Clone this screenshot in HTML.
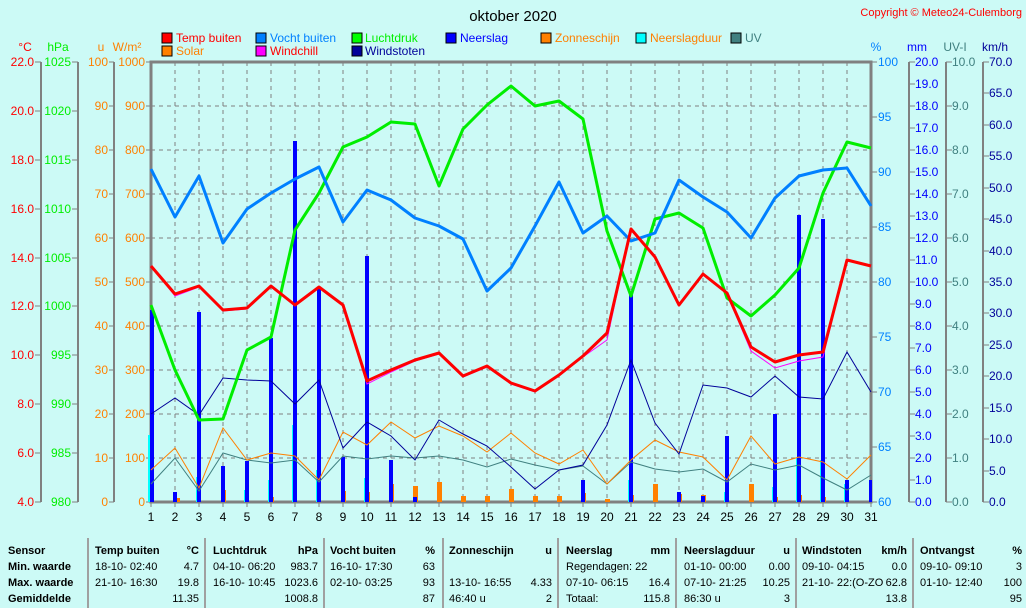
<!DOCTYPE html>
<html><head><meta charset="utf-8"><style>
html,body{margin:0;padding:0;background:#ccfaf6;}
svg{display:block;font-family:"Liberation Sans",sans-serif;}
</style></head><body>
<svg width="1026" height="608" viewBox="0 0 1026 608" xmlns="http://www.w3.org/2000/svg">
<rect width="1026" height="608" fill="#ccfaf6"/>
<text x="513" y="21" font-size="15" text-anchor="middle" fill="#000">oktober 2020</text>
<text x="1022" y="16" font-size="11" text-anchor="end" fill="#ff0000">Copyright © Meteo24-Culemborg</text>
<!-- legend -->
<g font-size="12">
<rect x="162" y="33" width="10" height="10" fill="#ff0000" stroke="#000"/><text x="176" y="42" fill="#ff0000">Temp buiten</text>
<rect x="162" y="46" width="10" height="10" fill="#ff8000" stroke="#000"/><text x="176" y="55" fill="#ff8000">Solar</text>
<rect x="256" y="33" width="10" height="10" fill="#0080ff" stroke="#000"/><text x="270" y="42" fill="#0080ff">Vocht buiten</text>
<rect x="256" y="46" width="10" height="10" fill="#ff00ff" stroke="#000"/><text x="270" y="55" fill="#ff0000">Windchill</text>
<rect x="352" y="33" width="10" height="10" fill="#00ff00" stroke="#000"/><text x="365" y="42" fill="#00ee00">Luchtdruk</text>
<rect x="352" y="46" width="10" height="10" fill="#000099" stroke="#000"/><text x="365" y="55" fill="#000099">Windstoten</text>
<rect x="446" y="33" width="10" height="10" fill="#0000ff" stroke="#000"/><text x="460" y="42" fill="#0000ff">Neerslag</text>
<rect x="541" y="33" width="10" height="10" fill="#ff8000" stroke="#000"/><text x="555" y="42" fill="#ff8000">Zonneschijn</text>
<rect x="636" y="33" width="10" height="10" fill="#00ffff" stroke="#000"/><text x="650" y="42" fill="#ff8000">Neerslagduur</text>
<rect x="731" y="33" width="10" height="10" fill="#408080" stroke="#000"/><text x="745" y="42" fill="#408080">UV</text>
</g>
<!-- axis titles -->
<g font-size="12">
<text x="25" y="51" fill="#ff0000" text-anchor="middle">°C</text>
<text x="58" y="51" fill="#00ee00" text-anchor="middle">hPa</text>
<text x="101" y="51" fill="#ff8000" text-anchor="middle">u</text>
<text x="127" y="51" fill="#ff8000" text-anchor="middle">W/m²</text>
<text x="876" y="51" fill="#0080ff" text-anchor="middle">%</text>
<text x="917" y="51" fill="#0000ff" text-anchor="middle">mm</text>
<text x="955" y="51" fill="#408080" text-anchor="middle">UV-I</text>
<text x="995" y="51" fill="#000099" text-anchor="middle">km/h</text>
</g>
<!-- grid -->
<g stroke="#808080" stroke-width="1" stroke-dasharray="4,4">
<path d="M175 62V502M199 62V502M223 62V502M247 62V502M271 62V502M295 62V502M319 62V502M343 62V502M367 62V502M391 62V502M415 62V502M439 62V502M463 62V502M487 62V502M511 62V502M535 62V502M559 62V502M583 62V502M607 62V502M631 62V502M655 62V502M679 62V502M703 62V502M727 62V502M751 62V502M775 62V502M799 62V502M823 62V502M847 62V502"/>
<path d="M151 106H871M151 150H871M151 194H871M151 238H871M151 282H871M151 326H871M151 370H871M151 414H871M151 458H871"/>
</g>
<!-- axes lines -->
<g stroke="#808080" fill="none">
<path d="M151 62H871V502H151Z" stroke-width="3"/>
<path d="M41 62V502M78 62V502M114 62V502M909 62V502M946 62V502M983 62V502" stroke-width="2"/>
<path d="M35 62h6M35 111h6M35 160h6M35 209h6M35 258h6M35 306h6M35 355h6M35 404h6M35 453h6M35 502h6"/>
<path d="M72 62h6M72 111h6M72 160h6M72 209h6M72 258h6M72 306h6M72 355h6M72 404h6M72 453h6M72 502h6"/>
<path d="M109 62h5M109 106h5M109 150h5M109 194h5M109 238h5M109 282h5M109 326h5M109 370h5M109 414h5M109 458h5M109 502h5"/>
<path d="M146 62h5M146 106h5M146 150h5M146 194h5M146 238h5M146 282h5M146 326h5M146 370h5M146 414h5M146 458h5M146 502h5"/>
<path d="M871 62h6M871 117h6M871 172h6M871 227h6M871 282h6M871 337h6M871 392h6M871 447h6M871 502h6"/>
<path d="M909 62h6M909 84h6M909 106h6M909 128h6M909 150h6M909 172h6M909 194h6M909 216h6M909 238h6M909 260h6M909 282h6M909 304h6M909 326h6M909 348h6M909 370h6M909 392h6M909 414h6M909 436h6M909 458h6M909 480h6M909 502h6"/>
<path d="M946 62h6M946 106h6M946 150h6M946 194h6M946 238h6M946 282h6M946 326h6M946 370h6M946 414h6M946 458h6M946 502h6"/>
<path d="M983 62h6M983 93h6M983 125h6M983 156h6M983 188h6M983 219h6M983 251h6M983 282h6M983 313h6M983 345h6M983 376h6M983 408h6M983 439h6M983 471h6M983 502h6"/>
<path d="M151 502v5M175 502v5M199 502v5M223 502v5M247 502v5M271 502v5M295 502v5M319 502v5M343 502v5M367 502v5M391 502v5M415 502v5M439 502v5M463 502v5M487 502v5M511 502v5M535 502v5M559 502v5M583 502v5M607 502v5M631 502v5M655 502v5M679 502v5M703 502v5M727 502v5M751 502v5M775 502v5M799 502v5M823 502v5M847 502v5M871 502v5"/>
</g>
<!-- axis labels -->
<g font-size="12" text-anchor="end">
<g fill="#ff0000"><text x="34" y="66">22.0</text><text x="34" y="115">20.0</text><text x="34" y="164">18.0</text><text x="34" y="213">16.0</text><text x="34" y="262">14.0</text><text x="34" y="310">12.0</text><text x="34" y="359">10.0</text><text x="34" y="408">8.0</text><text x="34" y="457">6.0</text><text x="34" y="506">4.0</text></g>
<g fill="#00ee00"><text x="71" y="66">1025</text><text x="71" y="115">1020</text><text x="71" y="164">1015</text><text x="71" y="213">1010</text><text x="71" y="262">1005</text><text x="71" y="310">1000</text><text x="71" y="359">995</text><text x="71" y="408">990</text><text x="71" y="457">985</text><text x="71" y="506">980</text></g>
<g fill="#ff8000"><text x="108" y="66">100</text><text x="108" y="110">90</text><text x="108" y="154">80</text><text x="108" y="198">70</text><text x="108" y="242">60</text><text x="108" y="286">50</text><text x="108" y="330">40</text><text x="108" y="374">30</text><text x="108" y="418">20</text><text x="108" y="462">10</text><text x="108" y="506">0</text></g>
<g fill="#ff8000"><text x="145" y="66">1000</text><text x="145" y="110">900</text><text x="145" y="154">800</text><text x="145" y="198">700</text><text x="145" y="242">600</text><text x="145" y="286">500</text><text x="145" y="330">400</text><text x="145" y="374">300</text><text x="145" y="418">200</text><text x="145" y="462">100</text><text x="145" y="506">0</text></g>
</g>
<g font-size="12" text-anchor="start">
<g fill="#0080ff"><text x="878" y="66">100</text><text x="878" y="121">95</text><text x="878" y="176">90</text><text x="878" y="231">85</text><text x="878" y="286">80</text><text x="878" y="341">75</text><text x="878" y="396">70</text><text x="878" y="451">65</text><text x="878" y="506">60</text></g>
<g fill="#0000ff"><text x="915" y="66">20.0</text><text x="915" y="88">19.0</text><text x="915" y="110">18.0</text><text x="915" y="132">17.0</text><text x="915" y="154">16.0</text><text x="915" y="176">15.0</text><text x="915" y="198">14.0</text><text x="915" y="220">13.0</text><text x="915" y="242">12.0</text><text x="915" y="264">11.0</text><text x="915" y="286">10.0</text><text x="915" y="308">9.0</text><text x="915" y="330">8.0</text><text x="915" y="352">7.0</text><text x="915" y="374">6.0</text><text x="915" y="396">5.0</text><text x="915" y="418">4.0</text><text x="915" y="440">3.0</text><text x="915" y="462">2.0</text><text x="915" y="484">1.0</text><text x="915" y="506">0.0</text></g>
<g fill="#408080"><text x="952" y="66">10.0</text><text x="952" y="110">9.0</text><text x="952" y="154">8.0</text><text x="952" y="198">7.0</text><text x="952" y="242">6.0</text><text x="952" y="286">5.0</text><text x="952" y="330">4.0</text><text x="952" y="374">3.0</text><text x="952" y="418">2.0</text><text x="952" y="462">1.0</text><text x="952" y="506">0.0</text></g>
<g fill="#000099"><text x="989" y="66">70.0</text><text x="989" y="97">65.0</text><text x="989" y="129">60.0</text><text x="989" y="160">55.0</text><text x="989" y="192">50.0</text><text x="989" y="223">45.0</text><text x="989" y="255">40.0</text><text x="989" y="286">35.0</text><text x="989" y="317">30.0</text><text x="989" y="349">25.0</text><text x="989" y="380">20.0</text><text x="989" y="412">15.0</text><text x="989" y="443">10.0</text><text x="989" y="475">5.0</text><text x="989" y="506">0.0</text></g>
</g>
<g font-size="12" text-anchor="middle" fill="#000">
<text x="151" y="521">1</text><text x="175" y="521">2</text><text x="199" y="521">3</text><text x="223" y="521">4</text><text x="247" y="521">5</text><text x="271" y="521">6</text><text x="295" y="521">7</text><text x="319" y="521">8</text><text x="343" y="521">9</text><text x="367" y="521">10</text><text x="391" y="521">11</text><text x="415" y="521">12</text><text x="439" y="521">13</text><text x="463" y="521">14</text><text x="487" y="521">15</text><text x="511" y="521">16</text><text x="535" y="521">17</text><text x="559" y="521">18</text><text x="583" y="521">19</text><text x="607" y="521">20</text><text x="631" y="521">21</text><text x="655" y="521">22</text><text x="679" y="521">23</text><text x="703" y="521">24</text><text x="727" y="521">25</text><text x="751" y="521">26</text><text x="775" y="521">27</text><text x="799" y="521">28</text><text x="823" y="521">29</text><text x="847" y="521">30</text><text x="871" y="521">31</text>
</g>
<!-- cyan neerslagduur bars -->
<g fill="#00ffff">
<rect x="148" y="435" width="5" height="67"/><rect x="196" y="477" width="5" height="25"/><rect x="244" y="490" width="5" height="12"/><rect x="268" y="480" width="5" height="22"/><rect x="292" y="425" width="5" height="77"/><rect x="316" y="470" width="5" height="32"/><rect x="364" y="478" width="5" height="24"/><rect x="628" y="480" width="5" height="22"/><rect x="724" y="492" width="5" height="10"/><rect x="772" y="487" width="5" height="15"/><rect x="796" y="458" width="5" height="44"/><rect x="820" y="460" width="5" height="42"/><rect x="844" y="484" width="5" height="18"/>
</g>
<!-- orange zonneschijn bars -->
<g fill="#ff8000">
<rect x="175" y="498" width="5" height="4"/><rect x="221" y="490" width="5" height="12"/><rect x="269" y="497" width="5" height="5"/><rect x="341" y="491" width="5" height="11"/><rect x="365" y="492" width="5" height="10"/><rect x="389" y="484" width="5" height="18"/><rect x="413" y="486" width="5" height="16"/><rect x="437" y="482" width="5" height="20"/><rect x="461" y="496" width="5" height="6"/><rect x="485" y="496" width="5" height="6"/><rect x="509" y="489" width="5" height="13"/><rect x="533" y="496" width="5" height="6"/><rect x="557" y="496" width="5" height="6"/><rect x="581" y="493" width="5" height="9"/><rect x="605" y="499" width="5" height="3"/><rect x="629" y="495" width="5" height="7"/><rect x="653" y="484" width="5" height="18"/><rect x="677" y="494" width="5" height="8"/><rect x="701" y="495" width="5" height="7"/><rect x="749" y="484" width="5" height="18"/><rect x="773" y="497" width="5" height="5"/><rect x="797" y="495" width="5" height="7"/><rect x="821" y="497" width="5" height="5"/><rect x="869" y="495" width="3" height="7"/>
</g>
<!-- neerslag bars -->
<g fill="#0000ff">
<rect x="150" y="310" width="4" height="192"/><rect x="173" y="492" width="4" height="10"/><rect x="197" y="312" width="4" height="190"/><rect x="221" y="466" width="4" height="36"/><rect x="245" y="461" width="4" height="41"/><rect x="269" y="338" width="4" height="164"/><rect x="293" y="141" width="4" height="361"/><rect x="317" y="288" width="4" height="214"/><rect x="341" y="457" width="4" height="45"/><rect x="365" y="256" width="4" height="246"/><rect x="389" y="460" width="4" height="42"/><rect x="413" y="497" width="4" height="5"/><rect x="581" y="480" width="4" height="22"/><rect x="629" y="292" width="4" height="210"/><rect x="677" y="492" width="4" height="10"/><rect x="701" y="496" width="4" height="6"/><rect x="725" y="436" width="4" height="66"/><rect x="773" y="414" width="4" height="88"/><rect x="797" y="215" width="4" height="287"/><rect x="821" y="219" width="4" height="283"/><rect x="845" y="480" width="4" height="22"/><rect x="869" y="480" width="3" height="22"/>
</g>
<!-- thin lines -->
<g fill="none" stroke-width="1">
<polyline stroke="#408080" points="151,484 175,458 199,491 223,453 247,460 271,463 295,460 319,482 343,456 367,459 391,456 415,458 439,456 463,460 487,467 511,459 535,465 559,470 583,466 607,484 631,462 655,469 679,472 703,469 727,482 751,464 775,470 799,465 823,478 847,490 871,475"/>
<polyline stroke="#ff8000" points="151,470 175,448 199,488 223,428 247,460 271,453 295,456 319,480 343,432 367,445 391,422 415,438 439,426 463,436 487,452 511,433 535,453 559,464 583,450 607,484 631,460 655,440 679,452 703,457 727,480 751,436 775,464 799,457 823,462 847,479 871,455"/>
<polyline stroke="#000099" points="151,414 175,398 199,415 223,378 247,380 271,381 295,404 319,380 343,448 367,422 391,436 415,460 439,420 463,434 487,446 511,467 535,489 559,470 583,465 607,425 631,360 655,423 679,454 703,385 727,388 751,397 775,376 799,397 823,399 847,352 871,392"/>
<polyline stroke="#ff00ff" points="151,266 175,296 199,287 223,311 247,309 271,287 295,306 319,288 343,306 367,384 391,372 415,361 439,354 463,377 487,367 511,384 535,392 559,376 583,357 607,340 631,229 655,258 679,306 703,275 727,294 751,351 775,368 799,361 823,357 847,260 871,266"/>
</g>
<!-- thick lines -->
<g fill="none" stroke-width="3" stroke-linejoin="round">
<polyline stroke="#00ee00" points="151,305 175,370 199,420 223,419 247,350 271,337 295,230 319,193 343,147 367,137 391,122 415,124 439,186 463,129 487,105 511,86 535,106 559,101 583,119 607,231 631,296 655,219 679,213 703,228 727,298 751,316 775,295 799,268 823,193 847,142 871,148"/>
<polyline stroke="#0080ff" points="151,169 175,217 199,176 223,243 247,209 271,193 295,179 319,167 343,222 367,190 391,200 415,218 439,226 463,239 487,291 511,268 535,226 559,182 583,233 607,216 631,241 655,233 679,180 703,197 727,212 751,238 775,198 799,176 823,170 847,168 871,206"/>
<polyline stroke="#ff0000" points="151,266 175,294 199,286 223,310 247,308 271,286 295,305 319,287 343,305 367,381 391,370 415,360 439,353 463,376 487,366 511,383 535,391 559,375 583,356 607,333 631,229 655,257 679,305 703,274 727,293 751,347 775,362 799,355 823,352 847,260 871,266"/>
</g>
<!-- table -->
<g stroke="#a0a0a0" stroke-width="2">
<path d="M88 538V608M205 538V608M324 538V608M443 538V608M558 538V608M676 538V608M796 538V608M913 538V608"/>
</g>
<g font-size="11" font-weight="bold" fill="#000">
<text x="8" y="554">Sensor</text><text x="8" y="570">Min. waarde</text><text x="8" y="586">Max. waarde</text><text x="8" y="602">Gemiddelde</text>
<text x="95" y="554">Temp buiten</text><text x="199" y="554" text-anchor="end">°C</text>
<text x="213" y="554">Luchtdruk</text><text x="318" y="554" text-anchor="end">hPa</text>
<text x="330" y="554">Vocht buiten</text><text x="435" y="554" text-anchor="end">%</text>
<text x="449" y="554">Zonneschijn</text><text x="552" y="554" text-anchor="end">u</text>
<text x="566" y="554">Neerslag</text><text x="670" y="554" text-anchor="end">mm</text>
<text x="684" y="554">Neerslagduur</text><text x="790" y="554" text-anchor="end">u</text>
<text x="802" y="554">Windstoten</text><text x="907" y="554" text-anchor="end">km/h</text>
<text x="920" y="554">Ontvangst</text><text x="1022" y="554" text-anchor="end">%</text>
</g>
<g font-size="11" fill="#000">
<text x="95" y="570">18-10- 02:40</text><text x="199" y="570" text-anchor="end">4.7</text>
<text x="95" y="586">21-10- 16:30</text><text x="199" y="586" text-anchor="end">19.8</text>
<text x="199" y="602" text-anchor="end">11.35</text>
<text x="213" y="570">04-10- 06:20</text><text x="318" y="570" text-anchor="end">983.7</text>
<text x="213" y="586">16-10- 10:45</text><text x="318" y="586" text-anchor="end">1023.6</text>
<text x="318" y="602" text-anchor="end">1008.8</text>
<text x="330" y="570">16-10- 17:30</text><text x="435" y="570" text-anchor="end">63</text>
<text x="330" y="586">02-10- 03:25</text><text x="435" y="586" text-anchor="end">93</text>
<text x="435" y="602" text-anchor="end">87</text>
<text x="449" y="586">13-10- 16:55</text><text x="552" y="586" text-anchor="end">4.33</text>
<text x="449" y="602">46:40 u</text><text x="552" y="602" text-anchor="end">2</text>
<text x="566" y="570">Regendagen: 22</text>
<text x="566" y="586">07-10- 06:15</text><text x="670" y="586" text-anchor="end">16.4</text>
<text x="566" y="602">Totaal:</text><text x="670" y="602" text-anchor="end">115.8</text>
<text x="684" y="570">01-10- 00:00</text><text x="790" y="570" text-anchor="end">0.00</text>
<text x="684" y="586">07-10- 21:25</text><text x="790" y="586" text-anchor="end">10.25</text>
<text x="684" y="602">86:30 u</text><text x="790" y="602" text-anchor="end">3</text>
<text x="802" y="570">09-10- 04:15</text><text x="907" y="570" text-anchor="end">0.0</text>
<text x="802" y="586">21-10- 22:(O-ZO</text><text x="907" y="586" text-anchor="end">62.8</text>
<text x="907" y="602" text-anchor="end">13.8</text>
<text x="920" y="570">09-10- 09:10</text><text x="1022" y="570" text-anchor="end">3</text>
<text x="920" y="586">01-10- 12:40</text><text x="1022" y="586" text-anchor="end">100</text>
<text x="1022" y="602" text-anchor="end">95</text>
</g>
</svg>
</body></html>
